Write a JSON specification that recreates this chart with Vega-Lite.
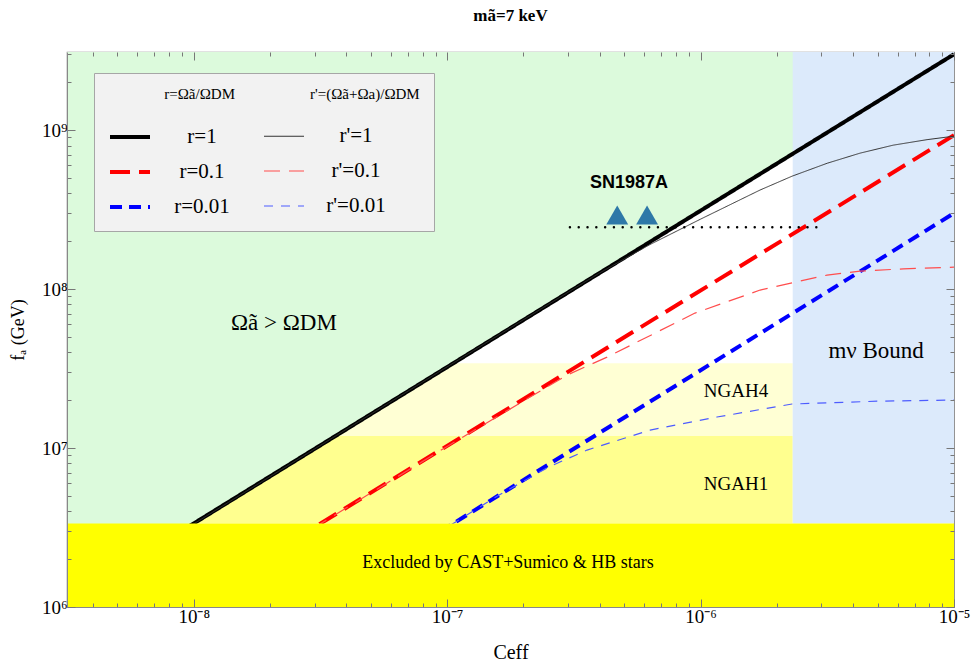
{
  "$schema": "https://vega.github.io/schema/vega-lite/v6.json",
  "width": 887,
  "height": 555,
  "autosize": {"type": "none"},
  "padding": {"left": 67, "top": 52, "right": 22, "bottom": 56},
  "background": "white",
  "title": {"text": "mã=7 keV", "font": "Liberation Serif", "fontSize": 17, "fontWeight": "bold", "anchor": "middle", "offset": 20, "color": "#000"},
  "config": {
    "view": {"stroke": "#888", "strokeWidth": 1.2},
    "axis": {"domainColor": "#888", "tickColor": "#777", "grid": false, "zindex": 1}
  },
  "resolve": {"axis": {"x": "independent", "y": "independent"}},
  "layer": [
    {
      "data": {"values": [{"x1": 3.1623e-9, "x2": 2.31e-6, "y1": 1.19e7, "y2": 3.41e7}]},
      "mark": {"type": "rect", "color": "#ffffd4"},
      "encoding": {
        "x": {"field": "x1", "type": "quantitative",
          "scale": {"type": "log", "domain": [3.1623e-9, 1e-5], "nice": false},
          "axis": {"orient": "bottom", "zindex": 1,
            "values": [4e-9,5e-9,6e-9,7e-9,8e-9,9e-9,1e-8,2e-8,3e-8,4e-8,5e-8,6e-8,7e-8,8e-8,9e-8,1e-7,2e-7,3e-7,4e-7,5e-7,6e-7,7e-7,8e-7,9e-7,1e-6,2e-6,3e-6,4e-6,5e-6,6e-6,7e-6,8e-6,9e-6,1e-5],
            "labelExpr": "datum.value==1e-8?'10⁻⁸':datum.value==1e-7?'10⁻⁷':datum.value==1e-6?'10⁻⁶':datum.value==1e-5?'10⁻⁵':''",
            "labelFont": "Liberation Serif", "labelFontSize": 19, "labelColor": "#000",
            "labelOverlap": false, "labelFlush": false, "labelPadding": 8,
            "tickSize": {"condition": {"test": "datum.value==1e-8||datum.value==1e-7||datum.value==1e-6||datum.value==1e-5", "value": -8}, "value": -4},
            "title": "Ceff", "titleFont": "Liberation Serif", "titleFontSize": 20, "titleFontWeight": "normal", "titleColor": "#000", "titlePadding": 12}},
        "x2": {"field": "x2"},
        "y": {"field": "y1", "type": "quantitative",
          "scale": {"type": "log", "domain": [1e6, 3.1e9], "nice": false},
          "axis": {"orient": "left", "zindex": 1,
            "values": [1e6,2e6,3e6,4e6,5e6,6e6,7e6,8e6,9e6,1e7,2e7,3e7,4e7,5e7,6e7,7e7,8e7,9e7,1e8,2e8,3e8,4e8,5e8,6e8,7e8,8e8,9e8,1e9,2e9,3e9],
            "labelExpr": "datum.value==1e6?'10⁶':datum.value==1e7?'10⁷':datum.value==1e8?'10⁸':datum.value==1e9?'10⁹':''",
            "labelFont": "Liberation Serif", "labelFontSize": 19, "labelColor": "#000",
            "labelOverlap": false, "labelFlush": false, "labelPadding": 8,
            "tickSize": {"condition": {"test": "datum.value==1e6||datum.value==1e7||datum.value==1e8||datum.value==1e9", "value": -8}, "value": -4},
            "title": "fₐ (GeV)", "titleFont": "Liberation Serif", "titleFontSize": 18, "titleFontWeight": "normal", "titleColor": "#000", "titlePadding": 14}},
        "y2": {"field": "y2"}
      }
    },
    {
      "data": {"values": [{"x1": 3.1623e-9, "x2": 2.31e-6, "y1": 3.35e6, "y2": 1.19e7}]},
      "mark": {"type": "rect", "color": "#ffff8f"},
      "encoding": {
        "x": {"field": "x1", "type": "quantitative",
          "axis": {"orient": "top", "labels": false, "domain": false, "title": null, "zindex": 1,
            "values": [4e-9,5e-9,6e-9,7e-9,8e-9,9e-9,1e-8,2e-8,3e-8,4e-8,5e-8,6e-8,7e-8,8e-8,9e-8,1e-7,2e-7,3e-7,4e-7,5e-7,6e-7,7e-7,8e-7,9e-7,1e-6,2e-6,3e-6,4e-6,5e-6,6e-6,7e-6,8e-6,9e-6,1e-5],
            "tickSize": {"condition": {"test": "datum.value==1e-8||datum.value==1e-7||datum.value==1e-6||datum.value==1e-5", "value": -8}, "value": -4}}},
        "x2": {"field": "x2"},
        "y": {"field": "y1", "type": "quantitative",
          "axis": {"orient": "right", "labels": false, "domain": false, "title": null, "zindex": 1,
            "values": [1e6,2e6,3e6,4e6,5e6,6e6,7e6,8e6,9e6,1e7,2e7,3e7,4e7,5e7,6e7,7e7,8e7,9e7,1e8,2e8,3e8,4e8,5e8,6e8,7e8,8e8,9e8,1e9,2e9,3e9],
            "tickSize": {"condition": {"test": "datum.value==1e6||datum.value==1e7||datum.value==1e8||datum.value==1e9", "value": -8}, "value": -4}}},
        "y2": {"field": "y2"}
      }
    },
    {
      "data": {"values": [{"C": 3.1623e-9, "f": 1.08e6, "top": 3.1e9}, {"C": 1e-5, "f": 3.0e9, "top": 3.1e9}]},
      "mark": {"type": "area", "color": "#dcfadc", "clip": true, "opacity": 1},
      "encoding": {
        "x": {"field": "C", "type": "quantitative", "axis": null},
        "y": {"field": "f", "type": "quantitative", "axis": null},
        "y2": {"field": "top"}
      }
    },
    {
      "data": {"values": [{"x1": 2.31e-6, "x2": 1e-5, "y1": 3.35e6, "y2": 3.1e9}]},
      "mark": {"type": "rect", "color": "#dceafb"},
      "encoding": {
        "x": {"field": "x1", "type": "quantitative", "axis": null},
        "x2": {"field": "x2"},
        "y": {"field": "y1", "type": "quantitative", "axis": null},
        "y2": {"field": "y2"}
      }
    },
    {
      "data": {"values": [
        {"series": "r=1", "C": 3.1623e-9, "f": 1.08e6},
        {"series": "r=1", "C": 1e-5, "f": 3.0e9},
        {"series": "r=0.1", "C": 2.0e-8, "f": 2.14e6},
        {"series": "r=0.1", "C": 1e-5, "f": 9.3e8},
        {"series": "r=0.01", "C": 7.0e-8, "f": 2.23e6},
        {"series": "r=0.01", "C": 1e-5, "f": 3.0e8},
        {"series": "r'=1", "C": 3.1623e-9, "f": 1.07e6},
        {"series": "r'=1", "C": 1e-7, "f": 3.24e7},
        {"series": "r'=1", "C": 2.512e-7, "f": 8.02e7},
        {"series": "r'=1", "C": 3.981e-7, "f": 1.259e8},
        {"series": "r'=1", "C": 6.31e-7, "f": 1.905e8},
        {"series": "r'=1", "C": 1e-6, "f": 2.754e8},
        {"series": "r'=1", "C": 1.718e-6, "f": 4.2e8},
        {"series": "r'=1", "C": 2.296e-6, "f": 5.13e8},
        {"series": "r'=1", "C": 3.162e-6, "f": 6.19e8},
        {"series": "r'=1", "C": 4.256e-6, "f": 7.16e8},
        {"series": "r'=1", "C": 5.754e-6, "f": 8.04e8},
        {"series": "r'=1", "C": 7.834e-6, "f": 8.71e8},
        {"series": "r'=1", "C": 1e-5, "f": 9.16e8},
        {"series": "r'=0.1", "C": 2.0e-8, "f": 2.14e6},
        {"series": "r'=0.1", "C": 1e-7, "f": 1.023e7},
        {"series": "r'=0.1", "C": 1.585e-7, "f": 1.585e7},
        {"series": "r'=0.1", "C": 2.972e-7, "f": 2.877e7},
        {"series": "r'=0.1", "C": 4.276e-7, "f": 3.733e7},
        {"series": "r'=0.1", "C": 9.506e-7, "f": 7.063e7},
        {"series": "r'=0.1", "C": 1.718e-6, "f": 9.86e7},
        {"series": "r'=0.1", "C": 3.155e-6, "f": 1.225e8},
        {"series": "r'=0.1", "C": 4.256e-6, "f": 1.297e8},
        {"series": "r'=0.1", "C": 6.31e-6, "f": 1.34e8},
        {"series": "r'=0.1", "C": 1e-5, "f": 1.374e8},
        {"series": "r'=0.01", "C": 7.0e-8, "f": 2.23e6},
        {"series": "r'=0.01", "C": 1.585e-7, "f": 5.01e6},
        {"series": "r'=0.01", "C": 2.512e-7, "f": 7.59e6},
        {"series": "r'=0.01", "C": 3.565e-7, "f": 9.71e6},
        {"series": "r'=0.01", "C": 6.324e-7, "f": 1.297e7},
        {"series": "r'=0.01", "C": 1.161e-6, "f": 1.567e7},
        {"series": "r'=0.01", "C": 2.296e-6, "f": 1.892e7},
        {"series": "r'=0.01", "C": 5.01e-6, "f": 1.972e7},
        {"series": "r'=0.01", "C": 1e-5, "f": 2.004e7}
      ]},
      "mark": {"type": "line", "clip": true},
      "encoding": {
        "x": {"field": "C", "type": "quantitative", "axis": null},
        "y": {"field": "f", "type": "quantitative", "axis": null},
        "color": {"field": "series", "type": "nominal",
          "scale": {"domain": ["r=1", "r=0.1", "r=0.01", "r'=1", "r'=0.1", "r'=0.01"],
                    "range": ["#000000", "#ff0000", "#0000ff", "#333333", "#ff4d4d", "#4d5cff"]},
          "legend": {"orient": "none", "legendX": 27, "legendY": 21, "columns": 2,
            "title": "\u200b\u00a0\u00a0\u00a0\u00a0\u00a0\u00a0\u00a0\u00a0\u00a0\u00a0\u00a0\u00a0\u00a0\u00a0\u00a0r=Ωã/ΩDM\u00a0\u00a0\u00a0\u00a0\u00a0\u00a0\u00a0\u00a0\u00a0\u00a0\u00a0\u00a0\u00a0\u00a0\u00a0\u00a0\u00a0\u00a0\u00a0\u00a0r'=(Ωã+Ωa)/ΩDM",
            "titleFont": "Liberation Serif", "titleFontSize": 15, "titleFontWeight": "normal", "titleColor": "#000",
            "titleLimit": 500, "titlePadding": 13,
            "labelFont": "Liberation Serif", "labelFontSize": 21, "labelColor": "#000", "labelAlign": "center",
            "labelOffset": 50, "labelLimit": 200,
            "symbolType": "stroke", "symbolSize": 1600,
            "columnPadding": 31, "rowPadding": 3, "padding": 14,
            "fillColor": "#f2f2f2", "strokeColor": "#a6a6a6"}},
        "strokeDash": {"field": "series", "type": "nominal",
          "scale": {"domain": ["r=1", "r=0.1", "r=0.01", "r'=1", "r'=0.1", "r'=0.01"],
                    "range": [[1, 0], [20, 9], [12, 7], [1, 0], [16, 9], [9, 8]]}},
        "strokeWidth": {"field": "series", "type": "nominal",
          "scale": {"type": "ordinal", "domain": ["r=1", "r=0.1", "r=0.01", "r'=1", "r'=0.1", "r'=0.01"],
                    "range": [4, 4, 4, 1, 1.2, 1.2]}}
      }
    },
    {
      "data": {"values": [{"x1": 3.1623e-9, "x2": 1e-5, "y1": 1e6, "y2": 3.35e6}]},
      "mark": {"type": "rect", "color": "#ffff00"},
      "encoding": {
        "x": {"field": "x1", "type": "quantitative", "axis": null},
        "x2": {"field": "x2"},
        "y": {"field": "y1", "type": "quantitative", "axis": null},
        "y2": {"field": "y2"}
      }
    },
    {
      "data": {"values": [{"C": 3.05e-7, "f": 2.45e8}, {"C": 3.04e-6, "f": 2.45e8}]},
      "mark": {"type": "line", "color": "#000", "strokeWidth": 2.4, "strokeDash": [0.1, 8.7], "strokeCap": "round"},
      "encoding": {
        "x": {"field": "C", "type": "quantitative", "axis": null},
        "y": {"field": "f", "type": "quantitative", "axis": null}
      }
    },
    {
      "data": {"values": [{"C": 4.69e-7, "f": 2.92e8}, {"C": 6.15e-7, "f": 2.92e8}]},
      "mark": {"type": "point", "shape": "triangle-up", "filled": true, "color": "#2e78a8", "opacity": 1, "size": 480},
      "encoding": {
        "x": {"field": "C", "type": "quantitative", "axis": null},
        "y": {"field": "f", "type": "quantitative", "axis": null}
      }
    },
    {
      "data": {"values": [{"label": "SN1987A", "C": 5.22e-7, "f": 4.65e8}]},
      "mark": {"type": "text", "font": "Liberation Sans", "fontSize": 18, "fontWeight": "bold", "color": "#000", "align": "center", "baseline": "middle"},
      "encoding": {
        "x": {"field": "C", "type": "quantitative", "axis": null},
        "y": {"field": "f", "type": "quantitative", "axis": null},
        "text": {"field": "label"}
      }
    },
    {
      "data": {"values": [
        {"label": "Ωã > ΩDM", "C": 2.27e-8, "f": 6.11e7},
        {"label": "mν Bound", "C": 4.93e-6, "f": 4.07e7}
      ]},
      "mark": {"type": "text", "font": "Liberation Serif", "fontSize": 23, "color": "#000", "align": "center", "baseline": "middle"},
      "encoding": {
        "x": {"field": "C", "type": "quantitative", "axis": null},
        "y": {"field": "f", "type": "quantitative", "axis": null},
        "text": {"field": "label"}
      }
    },
    {
      "data": {"values": [
        {"label": "NGAH4", "C": 1.38e-6, "f": 2.28e7},
        {"label": "NGAH1", "C": 1.38e-6, "f": 5.94e6}
      ]},
      "mark": {"type": "text", "font": "Liberation Serif", "fontSize": 19, "color": "#000", "align": "center", "baseline": "middle"},
      "encoding": {
        "x": {"field": "C", "type": "quantitative", "axis": null},
        "y": {"field": "f", "type": "quantitative", "axis": null},
        "text": {"field": "label"}
      }
    },
    {
      "data": {"values": [{"label": "Excluded by CAST+Sumico & HB stars", "C": 1.738e-7, "f": 1.89e6}]},
      "mark": {"type": "text", "font": "Liberation Serif", "fontSize": 18, "color": "#000", "align": "center", "baseline": "middle"},
      "encoding": {
        "x": {"field": "C", "type": "quantitative", "axis": null},
        "y": {"field": "f", "type": "quantitative", "axis": null},
        "text": {"field": "label"}
      }
    }
  ]
}
